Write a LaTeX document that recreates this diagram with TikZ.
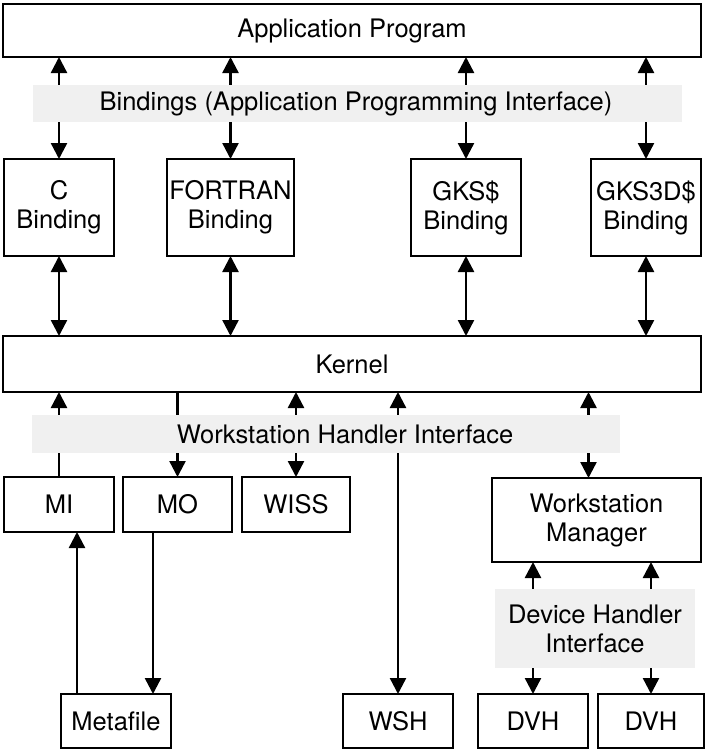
\documentclass[tikz,border=0pt]{standalone}
\usepackage{fontspec}
\setmainfont{TeX Gyre Heros}
\usetikzlibrary{arrows.meta,calc}
\definecolor{bandgray}{RGB}{240,240,240}
\begin{document}
\begin{tikzpicture}[x=1pt,y=-1pt,
  every node/.style={font=\fontsize{25.5}{29}\selectfont},
  box/.style={draw, line width=2.6pt, inner sep=0pt, outer sep=0pt, align=center},
  band/.style={fill=bandgray, inner sep=0pt, outer sep=0pt},
  bandtext/.style={inner sep=0pt, align=center},
  link/.style={line width=2.4pt},
  >={Triangle[length=16pt,width=16pt]}]
\useasboundingbox (0,0) rectangle (706,750);

% top level
\node[box, minimum width=698, minimum height=53] (app) at (352,30.5) {Application Program};

% language bindings
\node[box, minimum width=110, minimum height=97] (cb)  at (59,207.5)    {C\\Binding};
\node[box, minimum width=127, minimum height=97] (fb)  at (230.5,207.5) {FORTRAN\\Binding};
\node[box, minimum width=110, minimum height=97] (gb)  at (466,207.5)   {GKS\$\\Binding};
\node[box, minimum width=110, minimum height=97] (g3b) at (646,207.5)   {GKS3D\$\\Binding};

% kernel
\node[box, minimum width=698, minimum height=56] (kernel) at (352,364) {Kernel};

% workstation handlers
\node[box, minimum width=110, minimum height=55] (mi)   at (59,504.5)    {MI};
\node[box, minimum width=109, minimum height=55] (mo)   at (177.5,504.5) {MO};
\node[box, minimum width=108, minimum height=55] (wiss) at (296,504.5)   {WISS};
\node[box, minimum width=209, minimum height=84] (wm)   at (596.5,520)   {Workstation\\Manager};

% bottom row
\node[box, minimum width=110, minimum height=54] (meta) at (116,721) {Metafile};
\node[box, minimum width=110, minimum height=54] (wsh)  at (398,721) {WSH};
\node[box, minimum width=110, minimum height=54] (d1)   at (533,721) {DVH};
\node[box, minimum width=106, minimum height=54] (d2)   at (651,721) {DVH};

% application <-> bindings <-> kernel
\foreach \b in {cb,fb,gb,g3b}{
  \draw[link,<->] (app.south -| \b.north) -- (\b.north);
  \draw[link,<->] (\b.south) -- (\b.south |- kernel.north);
}

% kernel <-> workstation handlers
\draw[link,->]  (mi.north) -- (mi.north |- kernel.south);
\draw[link,->]  (mo.north |- kernel.south) -- (mo.north);
\draw[link,<->] (wiss.north |- kernel.south) -- (wiss.north);
\draw[link,<->] (wsh.north |- kernel.south) -- (wsh.north);
\coordinate (wmtop) at ([xshift=-8pt]wm.north);
\draw[link,<->] (wmtop |- kernel.south) -- (wmtop);

% metafile input and output
\coordinate (metain) at ([xshift=-39pt]meta.north);
\draw[link,->] (metain) -- (metain |- mi.south);
\coordinate (metaout) at ([xshift=37pt]meta.north);
\draw[link,->] (metaout |- mo.south) -- (metaout);

% workstation manager <-> device handlers
\draw[link,<->] (wm.south -| d1.north) -- (d1.north);
\draw[link,<->] (wm.south -| d2.north) -- (d2.north);

% interface bands laid over the connectors
\node[band, minimum width=649, minimum height=37] (apiband) at (357.5,103.5) {};
\node[bandtext] (apitext) at (356,103.5) {Bindings (Application Programming Interface)};

\node[band, minimum width=588, minimum height=38] (whiband) at (326,434) {};
\node[bandtext] (whitext) at (345,434) {Workstation Handler Interface};

\node[band, minimum width=200, minimum height=79] (dhiband) at (595,628.5) {};
\node[bandtext] (dhitext) at (595,628.5) {Device Handler\\Interface};
\end{tikzpicture}
\end{document}
